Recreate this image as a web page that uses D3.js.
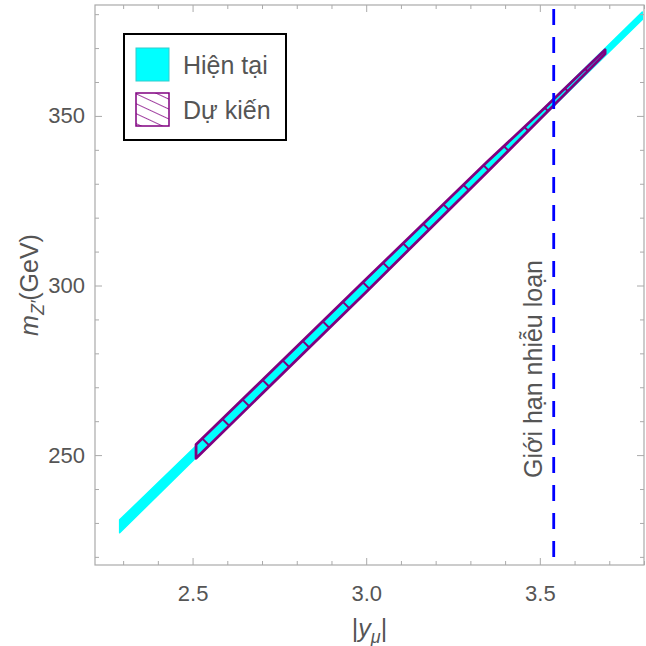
<!DOCTYPE html>
<html><head><meta charset="utf-8">
<script src="https://cdn.jsdelivr.net/npm/d3@7"></script>
<style>body{margin:0;background:#fff}svg{display:block}</style>
</head><body>
<svg id="c" width="646" height="646"></svg>
<script>
// ---- data ----
const curX  = [2.290, 2.500, 3.000, 3.500, 3.795];
const curLo = [227.1, 248.3, 298.7, 348.9, 378.4];
const curHi = [230.9, 251.7, 301.3, 351.1, 380.6];
const projX  = [2.510, 3.000, 3.350, 3.500, 3.688];
const projLo = [249.1, 298.1, 333.6, 349.0, 368.3];
const projHi = [253.1, 301.9, 336.6, 351.0, 369.5];
const perturbLimit = 3.54;
const xMajor = [2.5, 3.0, 3.5];
const xMinor = [2.3, 2.4, 2.6, 2.7, 2.8, 2.9, 3.1, 3.2, 3.3, 3.4, 3.6, 3.7, 3.8];
const yMajor = [250, 300, 350];
const yMinor = [220, 230, 240, 260, 270, 280, 290, 310, 320, 330, 340, 360, 370, 380];
const legendLabels = ["Hiện tại", "Dự kiến"];

const L = 95, R = 644, T = 5, B = 565;
const svg = d3.select("#c");
const x = d3.scaleLinear().domain([2.219, 3.80]).range([L, R]);
const y = d3.scaleLinear().domain([217.6, 382.7]).range([B, T]);
const font = "Liberation Sans, Arial, sans-serif";

const defs = svg.append("defs");
defs.append("clipPath").attr("id", "clip").append("rect")
  .attr("x", L).attr("y", T).attr("width", R - L).attr("height", B - T);
const pat = defs.append("pattern").attr("id", "hatch").attr("patternUnits", "userSpaceOnUse")
  .attr("width", 28).attr("height", 28).attr("patternTransform", "rotate(-45)");
pat.append("line").attr("x1", 0).attr("y1", 0).attr("x2", 0).attr("y2", 28)
  .attr("stroke", "#800080").attr("stroke-width", 4);
const pat2 = defs.append("pattern").attr("id", "hatch2").attr("patternUnits", "userSpaceOnUse")
  .attr("width", 9).attr("height", 9).attr("patternTransform", "rotate(25)");
pat2.append("line").attr("x1", 0).attr("y1", 0).attr("x2", 9).attr("y2", 0)
  .attr("stroke", "#800080").attr("stroke-width", 1.5);

const gray = "#aaaaaa", txt = "#555555";

// ---- bands ----
const plot = svg.append("g").attr("clip-path", "url(#clip)");
const cur = curX.map((d, i) => ({x: d, lo: curLo[i], hi: curHi[i]}));
const proj = projX.map((d, i) => ({x: d, lo: projLo[i], hi: projHi[i]}));
const area = d3.area().x(d => x(d.x)).y0(d => y(d.lo)).y1(d => y(d.hi));
plot.append("path").datum(cur).attr("d", area).attr("fill", "#00ffff")
  .attr("stroke", "#00ffff").attr("stroke-width", 1.5).attr("stroke-linejoin", "round");
plot.append("path").datum(proj).attr("d", area).attr("fill", "url(#hatch)")
  .attr("stroke", "#800080").attr("stroke-width", 2.8).attr("stroke-linejoin", "round");

// ---- dashed limit line ----
plot.append("line").attr("x1", x(perturbLimit)).attr("x2", x(perturbLimit))
  .attr("y1", T + 4).attr("y2", B)
  .attr("stroke", "#0000ff").attr("stroke-width", 2.8).attr("stroke-dasharray", "16,12");

svg.append("text").attr("transform", `translate(${x(perturbLimit) - 12},369) rotate(-90)`)
  .attr("text-anchor", "middle").attr("font-family", font)
  .attr("font-size", 25).attr("fill", txt).text("Giới hạn nhiễu loạn");

// ---- frame & axes ----
function axisG(axis, tr) {
  const g = svg.append("g").attr("transform", tr).call(axis);
  g.select(".domain").remove();
  g.selectAll(".tick line").attr("stroke", gray);
  g.selectAll("text").attr("fill", txt).attr("font-size", 22).attr("font-family", font);
  return g;
}
axisG(d3.axisBottom(x).tickValues(xMajor).tickSize(-7).tickPadding(20).tickFormat(d3.format(".1f")), `translate(0,${B})`);
axisG(d3.axisBottom(x).tickValues(xMinor).tickSize(-4).tickFormat(""), `translate(0,${B})`);
axisG(d3.axisTop(x).tickValues(xMajor).tickSize(-7).tickFormat(""), `translate(0,${T})`);
axisG(d3.axisTop(x).tickValues(xMinor).tickSize(-4).tickFormat(""), `translate(0,${T})`);
axisG(d3.axisLeft(y).tickValues(yMajor).tickSize(-7).tickPadding(10).tickFormat(d3.format("d")), `translate(${L},0)`);
axisG(d3.axisLeft(y).tickValues(yMinor).tickSize(-4).tickFormat(""), `translate(${L},0)`);
axisG(d3.axisRight(y).tickValues(yMajor).tickSize(-7).tickFormat(""), `translate(${R},0)`);
axisG(d3.axisRight(y).tickValues(yMinor).tickSize(-4).tickFormat(""), `translate(${R},0)`);
svg.append("rect").attr("x", L).attr("y", T).attr("width", R - L).attr("height", B - T)
  .attr("fill", "none").attr("stroke", gray).attr("stroke-width", 1.2);

// ---- axis titles ----
const xl = svg.append("text").attr("x", (L + R) / 2).attr("y", 637).attr("text-anchor", "middle")
  .attr("font-family", font).attr("font-size", 25).attr("fill", txt);
xl.append("tspan").text("|");
xl.append("tspan").attr("font-style", "italic").text("y");
xl.append("tspan").attr("font-style", "italic").attr("font-size", 18).attr("dy", 6).text("μ");
xl.append("tspan").attr("dy", -6).text("|");

const yl = svg.append("text").attr("transform", `translate(38,${(T + B) / 2}) rotate(-90)`)
  .attr("text-anchor", "middle").attr("font-family", font)
  .attr("font-size", 25).attr("fill", txt);
yl.append("tspan").attr("font-style", "italic").text("m");
yl.append("tspan").attr("font-style", "italic").attr("font-size", 18).attr("dy", 6).text("Z′");
yl.append("tspan").attr("dy", -6).text("(GeV)");

// ---- legend ----
const lg = svg.append("g");
lg.append("rect").attr("x", 124).attr("y", 34).attr("width", 162).attr("height", 106)
  .attr("fill", "#fff").attr("stroke", "#000").attr("stroke-width", 2);
lg.append("rect").attr("x", 136).attr("y", 48).attr("width", 33).attr("height", 33)
  .attr("fill", "#00ffff").attr("stroke", "#33cccc").attr("stroke-width", 1);
lg.append("rect").attr("x", 136).attr("y", 93).attr("width", 33).attr("height", 33)
  .attr("fill", "url(#hatch2)").attr("stroke", "#800080").attr("stroke-width", 1.5);
legendLabels.forEach((t, i) => {
  lg.append("text").attr("x", 183).attr("y", 74 + i * 45)
    .attr("font-family", font).attr("font-size", 25).attr("fill", txt).text(t);
});
</script>
</body></html>
